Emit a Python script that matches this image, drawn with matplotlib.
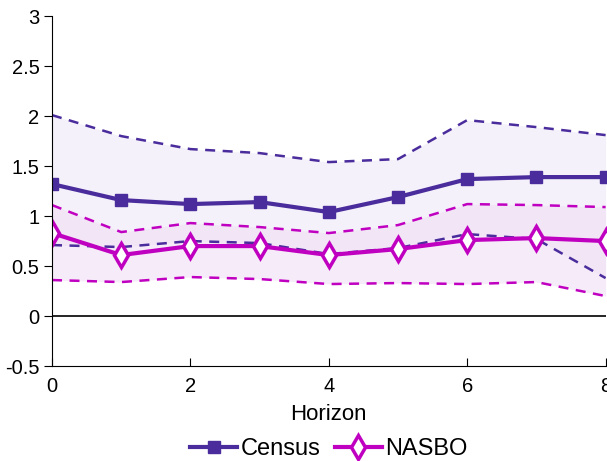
import matplotlib
matplotlib.use("Agg")
from matplotlib import pyplot as plt

plt.rcParams['font.family'] = ['Liberation Sans', 'DejaVu Sans']

horizon = [0, 1, 2, 3, 4, 5, 6, 7, 8]

census = [1.32, 1.16, 1.12, 1.14, 1.04, 1.19, 1.37, 1.39, 1.39]
census_hi = [2.01, 1.80, 1.67, 1.63, 1.54, 1.57, 1.96, 1.89, 1.81]
census_lo = [0.71, 0.69, 0.75, 0.73, 0.62, 0.68, 0.82, 0.77, 0.38]

nasbo = [0.83, 0.61, 0.70, 0.70, 0.61, 0.67, 0.76, 0.78, 0.75]
nasbo_hi = [1.11, 0.84, 0.93, 0.89, 0.83, 0.91, 1.12, 1.11, 1.09]
nasbo_lo = [0.36, 0.34, 0.39, 0.37, 0.32, 0.33, 0.32, 0.34, 0.20]

c_col = '#4a2c9c'
n_col = '#c000c0'

fig = plt.figure(figsize=(6.07, 4.61), dpi=100)
ax = fig.add_axes([0.0857, 0.206, 0.912, 0.759])

# shaded bands
ax.fill_between(horizon, census_lo, census_hi, color='#ece6f6', alpha=0.55, lw=0)
ax.fill_between(horizon, nasbo_lo, nasbo_hi, color='#f0dcf4', alpha=0.55, lw=0)

ax.axhline(0, color='black', lw=1.2)

ax.plot(horizon, census_hi, color=c_col, ls=(0, (4, 3)), lw=1.8)
ax.plot(horizon, census_lo, color=c_col, ls=(0, (4, 3)), lw=1.8)
ax.plot(horizon, nasbo_hi, color=n_col, ls=(0, (4, 3)), lw=1.8)
ax.plot(horizon, nasbo_lo, color=n_col, ls=(0, (4, 3)), lw=1.8)

ax.plot(horizon, census, color=c_col, lw=3, marker='s', ms=9, label='Census')
ax.plot(horizon, nasbo, color=n_col, lw=3, marker='d', ms=12, mfc='white',
        mew=2.5, label='NASBO')

ax.set_xlim(0, 8)
ax.set_ylim(-0.5, 3)
ax.set_xticks([0, 2, 4, 6, 8])
ax.set_yticks([-0.5, 0, 0.5, 1, 1.5, 2, 2.5, 3])
ax.set_yticklabels(['-0.5', '0', '0.5', '1', '1.5', '2', '2.5', '3'])
ax.tick_params(axis='x', direction='in', length=6, labelsize=14.5, pad=8)
ax.tick_params(axis='y', direction='out', length=6, labelsize=14.5, pad=3)
ax.spines['top'].set_visible(False)
ax.spines['right'].set_visible(False)
ax.set_xlabel('Horizon', fontsize=16, labelpad=6)

fig.legend(*ax.get_legend_handles_labels(), loc='center', bbox_to_anchor=(0.542, 0.026),
           ncol=2, frameon=False, fontsize=17, handlelength=2.0, columnspacing=0.6,
           handletextpad=0.15)

fig.savefig('out.png', dpi=100)
